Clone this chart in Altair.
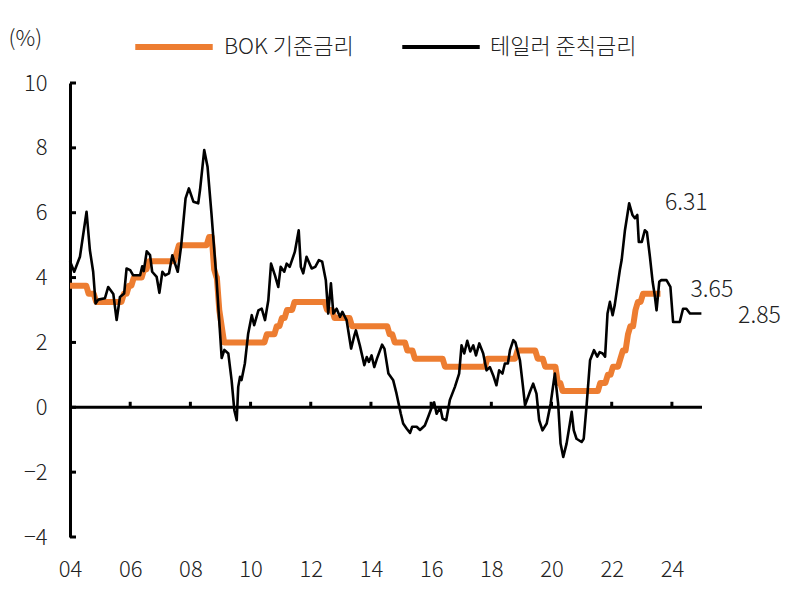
import altair as alt
import pandas as pd

# ---- data ----
# BOK base rate: (decimal year of change, new rate)
bok_change_t = [2004.58, 2004.83, 2005.75, 2005.92, 2006.08, 2006.42, 2006.58, 2007.50, 2007.58,
                2008.58, 2008.75, 2008.83, 2008.92, 2009.00, 2009.08, 2010.50, 2010.83, 2011.00,
                2011.17, 2011.42, 2012.50, 2012.75, 2013.33, 2014.58, 2014.75, 2015.17, 2015.42,
                2016.42, 2017.83, 2018.83, 2019.50, 2019.75, 2020.17, 2020.33, 2021.58, 2021.83,
                2022.00, 2022.25, 2022.33, 2022.50, 2022.58, 2022.75, 2022.83, 2023.00]
bok_change_v = [3.50, 3.25, 3.50, 3.75, 4.00, 4.25, 4.50, 4.75, 5.00,
                5.25, 4.25, 4.00, 3.00, 2.50, 2.00, 2.25, 2.50, 2.75,
                3.00, 3.25, 3.00, 2.75, 2.50, 2.25, 2.00, 1.75, 1.50,
                1.25, 1.50, 1.75, 1.50, 1.25, 0.75, 0.50, 0.75, 1.00,
                1.25, 1.50, 1.75, 2.25, 2.50, 3.00, 3.25, 3.50]
bok_start = (2004.0, 3.75)
bok_end_t = 2023.62

taylor_t = [2004.00, 2004.14, 2004.33, 2004.55, 2004.66, 2004.77, 2004.85, 2004.94, 2005.16, 2005.27,
            2005.44, 2005.55, 2005.66, 2005.80, 2005.88, 2006.00, 2006.10, 2006.33, 2006.40, 2006.45,
            2006.55, 2006.66, 2006.73, 2006.88, 2006.97, 2007.07, 2007.16, 2007.29, 2007.40, 2007.45,
            2007.58, 2007.69, 2007.84, 2007.95, 2008.10, 2008.26, 2008.32, 2008.46, 2008.57, 2008.70,
            2008.87, 2009.04, 2009.13, 2009.26, 2009.37, 2009.46, 2009.54, 2009.59, 2009.65, 2009.70,
            2009.81, 2009.92, 2010.04, 2010.12, 2010.26, 2010.37, 2010.48, 2010.59, 2010.68, 2010.81,
            2010.92, 2011.00, 2011.12, 2011.20, 2011.30, 2011.47, 2011.60, 2011.67, 2011.75, 2011.86,
            2012.03, 2012.15, 2012.27, 2012.38, 2012.50, 2012.58, 2012.67, 2012.75, 2012.86, 2012.97,
            2013.05, 2013.19, 2013.34, 2013.45, 2013.50, 2013.63, 2013.78, 2013.86, 2013.93, 2014.02,
            2014.11, 2014.20, 2014.37, 2014.45, 2014.58, 2014.74, 2014.85, 2014.99, 2015.07, 2015.19,
            2015.30, 2015.37, 2015.52, 2015.63, 2015.79, 2015.90, 2016.02, 2016.10, 2016.18, 2016.30,
            2016.38, 2016.50, 2016.62, 2016.79, 2016.93, 2017.01, 2017.10, 2017.20, 2017.30, 2017.40,
            2017.49, 2017.60, 2017.73, 2017.84, 2017.95, 2018.06, 2018.17, 2018.26, 2018.37, 2018.45,
            2018.55, 2018.62, 2018.73, 2018.80, 2018.95, 2019.04, 2019.12, 2019.28, 2019.39, 2019.50,
            2019.59, 2019.70, 2019.84, 2019.97, 2020.11, 2020.22, 2020.30, 2020.39, 2020.50, 2020.61,
            2020.67, 2020.74, 2020.83, 2021.00, 2021.07, 2021.17, 2021.28, 2021.41, 2021.52, 2021.60,
            2021.70, 2021.78, 2021.86, 2021.94, 2022.03, 2022.10, 2022.27, 2022.33, 2022.44, 2022.58,
            2022.69, 2022.77, 2022.85, 2022.90, 2023.00, 2023.10, 2023.17, 2023.27, 2023.36, 2023.43,
            2023.49, 2023.58, 2023.64, 2023.82, 2023.95, 2024.04, 2024.26, 2024.37, 2024.48, 2024.60,
            2024.98]
taylor_v = [4.50, 4.18, 4.64, 6.03, 4.85, 4.18, 3.20, 3.32, 3.36, 3.71,
            3.49, 2.69, 3.40, 3.51, 4.28, 4.23, 4.07, 4.07, 4.35, 4.20,
            4.81, 4.69, 4.18, 4.02, 3.53, 4.18, 4.07, 4.13, 4.69, 4.54,
            4.18, 4.95, 6.44, 6.75, 6.34, 6.29, 6.70, 7.93, 7.42, 5.98,
            3.92, 1.52, 1.77, 1.66, 0.83, -0.09, -0.40, 0.63, 0.94, 0.84,
            1.35, 2.27, 2.84, 2.53, 2.99, 3.04, 2.69, 3.30, 4.43, 4.07,
            3.71, 4.33, 4.18, 4.43, 4.33, 4.79, 5.46, 4.33, 4.13, 4.64,
            4.28, 4.33, 4.54, 4.49, 3.92, 2.89, 3.82, 2.89, 3.04, 2.79,
            2.94, 2.69, 1.81, 2.22, 2.37, 1.91, 1.30, 1.55, 1.40, 1.60,
            1.24, 1.50, 1.93, 1.80, 1.04, 0.83, 0.42, -0.19, -0.50, -0.66,
            -0.79, -0.60, -0.60, -0.70, -0.56, -0.30, 0.00, 0.15, -0.20, 0.00,
            -0.35, -0.40, 0.22, 0.63, 1.04, 1.91, 1.66, 2.05, 1.72, 1.91,
            1.60, 1.97, 1.66, 1.14, 1.24, 0.99, 0.68, 1.14, 1.04, 1.35,
            1.35, 1.76, 2.07, 2.00, 1.45, 0.73, 0.06, 0.47, 0.73, 0.42,
            -0.40, -0.71, -0.50, 0.11, 1.04, 0.11, -1.12, -1.53, -1.12, -0.50,
            -0.14, -0.71, -0.97, -1.07, -0.97, 0.11, 1.45, 1.76, 1.56, 1.70,
            1.66, 1.56, 2.89, 3.25, 2.84, 3.15, 4.23, 4.54, 5.46, 6.29,
            5.93, 5.83, 5.93, 5.10, 5.10, 5.46, 5.40, 4.64, 3.87, 3.45,
            2.99, 3.87, 3.92, 3.92, 3.71, 2.63, 2.63, 3.04, 3.04, 2.89,
            2.89]

series_names = ["BOK 기준금리", "테일러 준칙금리"]
series_colors = ["#ED7D31", "#000000"]
series_widths = [6, 2.6]
legend_widths = [6, 4]

x_ticks = [2004, 2006, 2008, 2010, 2012, 2014, 2016, 2018, 2020, 2022, 2024]
y_ticks = [-4, -2, 0, 2, 4, 6, 8, 10]

ann_text = ["6.31", "3.65", "2.85"]
ann_x = [2023.77, 2024.62, 2026.2]
ann_y = [6.30, 3.61, 2.81]

FONT = "Noto Sans CJK KR"
FW = 300
TXT = "#222222"

# ---- build tables ----
bok_t, bok_v = [bok_start[0]], [bok_start[1]]
prev = bok_start[1]
for t, v in zip(bok_change_t, bok_change_v):
    bok_t.append(t - 0.04)
    bok_v.append(prev)
    bok_t.append(t + 0.04)
    bok_v.append(v)
    prev = v
bok_t.append(bok_end_t)
bok_v.append(prev)

df = pd.concat([
    pd.DataFrame({"t": bok_t, "v": bok_v, "series": series_names[0]}),
    pd.DataFrame({"t": taylor_t, "v": taylor_v, "series": series_names[1]}),
], ignore_index=True)

xscale = alt.Scale(domain=[2004, 2025], nice=False, zero=False)
yscale = alt.Scale(domain=[-4, 10], nice=False, zero=False)

X = alt.X("t:Q", scale=xscale,
          axis=alt.Axis(values=x_ticks, ticks=False, domain=False, grid=False, title=None,
                        labelExpr="(datum.value % 100 < 10 ? '0' : '') + (datum.value % 100)",
                        labelFlush=False, labelFontSize=22, labelFont=FONT, labelFontWeight=FW,
                        labelColor=TXT, labelPadding=22))
Y = alt.Y("v:Q", scale=yscale,
          axis=alt.Axis(values=y_ticks, ticks=False, domainWidth=3, domainColor="black", grid=False,
                        labelFlush=False, labelFontSize=22, labelFont=FONT, labelFontWeight=FW,
                        labelColor=TXT, labelPadding=23,
                        title="(%)", titleAngle=0, titleAlign="left", titleBaseline="middle",
                        titleX=-62, titleY=-45, titleFontSize=22, titleFont=FONT,
                        titleFontWeight=FW, titleColor=TXT))

leg = dict(title=None, orient="none", legendX=62, legendY=-78,
           direction="horizontal", symbolType="stroke", symbolSize=6000,
           labelFontSize=22, labelFont=FONT, labelFontWeight=FW, labelColor=TXT,
           labelOffset=8, columnPadding=40)
color = alt.Color("series:N", scale=alt.Scale(domain=series_names, range=series_colors),
                  legend=alt.Legend(**leg))
swidth = alt.StrokeWidth("series:N", scale=alt.Scale(domain=series_names, range=legend_widths),
                         legend=alt.Legend(**leg))

base = alt.Chart(df)

bok_line = base.transform_filter(alt.datum.series == series_names[0]).mark_line(
    strokeCap="butt", strokeJoin="round").encode(
    x=X, y=Y, color=color, strokeWidth=swidth)
tay_line = base.transform_filter(alt.datum.series == series_names[1]).mark_line(
    strokeJoin="round").encode(x=X, y=Y, color=color,
                               strokeWidth=alt.value(series_widths[1]))

zero_df = pd.DataFrame({"x": [2004], "x2": [2025], "y": [0]})
zero_line = alt.Chart(zero_df).mark_rule(color="black", strokeWidth=3).encode(
    x=alt.X("x:Q", scale=xscale), x2="x2:Q", y=alt.Y("y:Q", scale=yscale))

xt_df = pd.DataFrame({"x": x_ticks[1:], "y": [0] * (len(x_ticks) - 1), "y2": [0.17] * (len(x_ticks) - 1)})
x_tick_marks = alt.Chart(xt_df).mark_rule(color="black", strokeWidth=3).encode(
    x=alt.X("x:Q", scale=xscale), y=alt.Y("y:Q", scale=yscale), y2="y2:Q")

yt_df = pd.DataFrame({"x": [2004] * len(y_ticks), "x2": [2004.2] * len(y_ticks), "y": y_ticks})
y_tick_marks = alt.Chart(yt_df).mark_rule(color="black", strokeWidth=3).encode(
    x=alt.X("x:Q", scale=xscale), x2="x2:Q", y=alt.Y("y:Q", scale=yscale))

ann_df = pd.DataFrame({"x": ann_x, "y": ann_y, "txt": ann_text})
ann = alt.Chart(ann_df).mark_text(align="left", baseline="middle", fontSize=23, font=FONT,
                                  fontWeight=FW, color=TXT).encode(
    x=alt.X("x:Q", scale=xscale), y=alt.Y("y:Q", scale=yscale), text="txt:N")

chart = alt.layer(zero_line, x_tick_marks, y_tick_marks, bok_line, tay_line, ann).properties(
    width=632, height=454,
    autosize=alt.AutoSizeParams(type="none"),
    padding={"left": 62, "top": 75, "right": 98, "bottom": 54},
).configure(background="white").configure_view(stroke=None)

chart.save("out.html", embed_options={"renderer": "svg", "actions": False})
